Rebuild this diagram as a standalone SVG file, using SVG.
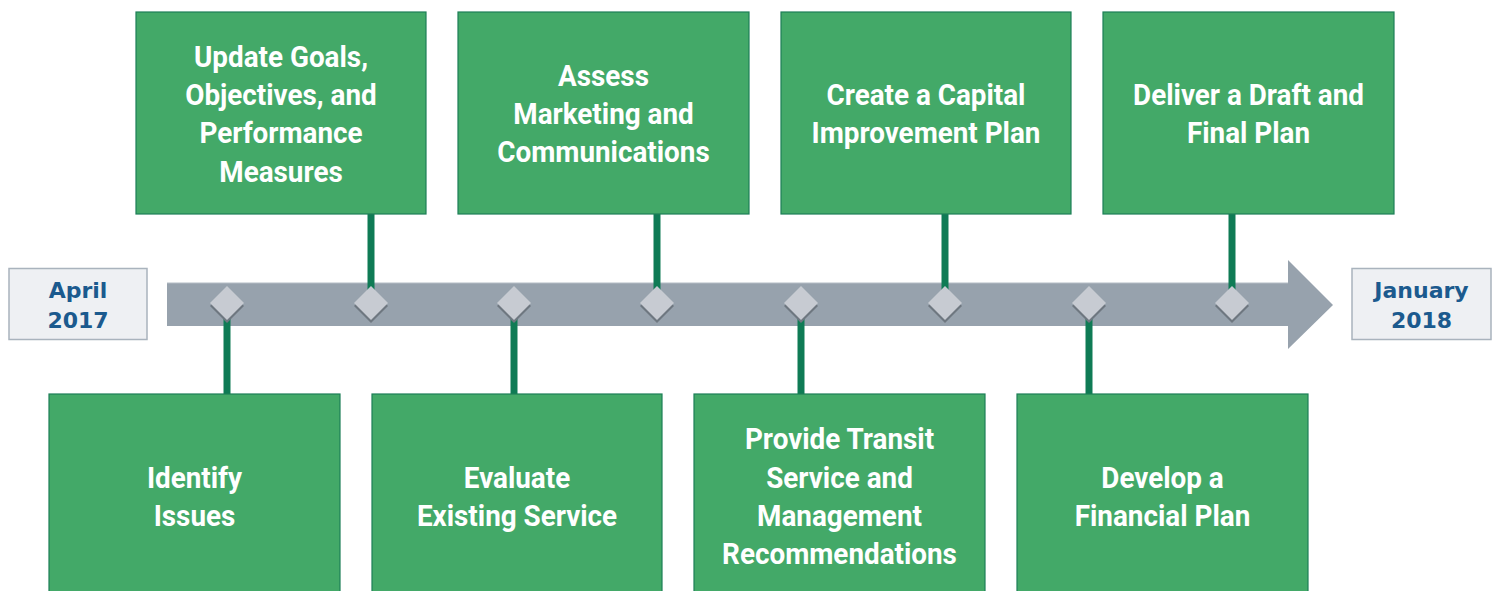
<svg xmlns="http://www.w3.org/2000/svg" width="1499" height="591" viewBox="0 0 1499 591">
<defs>
<style>
.box{fill:#43a968;stroke:#1d7f57;stroke-width:1.2}
.t{font-family:Roboto,"Noto Sans",sans-serif;font-weight:bold;font-size:29px;fill:#ffffff;text-anchor:middle}
.date{fill:#eef0f3;stroke:#a9b3bd;stroke-width:1.5}
.dt{font-family:"DejaVu Sans",Verdana,sans-serif;font-weight:bold;font-size:22px;fill:#1b5a8e;text-anchor:middle}
.conn{stroke:#0f7b55;stroke-width:7;fill:none}
.dia{fill:#c7cbd2}
.sh{fill:#6e7780}
</style>
<g id="dshape"><path d="M0,-17 L17,0 L0,17 L-17,0 Z"/></g>
</defs>
<rect width="1499" height="591" fill="#ffffff"/>
<g id="timeline">
<path d="M167,283 H1288 V260 L1333,305 L1288,349 V326 H167 Z" fill="#97a2ad"/>
<line x1="167" y1="282.8" x2="1288" y2="282.8" stroke="#c9d0d6" stroke-width="1"/>
</g>
<g id="connectors">
<line class="conn" x1="371" y1="214" x2="371" y2="295"/>
<line class="conn" x1="657" y1="214" x2="657" y2="295"/>
<line class="conn" x1="945" y1="214" x2="945" y2="295"/>
<line class="conn" x1="1232" y1="214" x2="1232" y2="295"/>
<line class="conn" x1="227" y1="310" x2="227" y2="394"/>
<line class="conn" x1="514" y1="310" x2="514" y2="394"/>
<line class="conn" x1="801" y1="310" x2="801" y2="394"/>
<line class="conn" x1="1089" y1="310" x2="1089" y2="394"/>
</g>
<g id="diamonds">
<g transform="translate(227,306)"><use href="#dshape" class="sh"/></g><g transform="translate(227,303)"><use href="#dshape" class="dia"/></g>
<g transform="translate(371,306)"><use href="#dshape" class="sh"/></g><g transform="translate(371,303)"><use href="#dshape" class="dia"/></g>
<g transform="translate(514,306)"><use href="#dshape" class="sh"/></g><g transform="translate(514,303)"><use href="#dshape" class="dia"/></g>
<g transform="translate(657,306)"><use href="#dshape" class="sh"/></g><g transform="translate(657,303)"><use href="#dshape" class="dia"/></g>
<g transform="translate(801,306)"><use href="#dshape" class="sh"/></g><g transform="translate(801,303)"><use href="#dshape" class="dia"/></g>
<g transform="translate(945,306)"><use href="#dshape" class="sh"/></g><g transform="translate(945,303)"><use href="#dshape" class="dia"/></g>
<g transform="translate(1089,306)"><use href="#dshape" class="sh"/></g><g transform="translate(1089,303)"><use href="#dshape" class="dia"/></g>
<g transform="translate(1232,306)"><use href="#dshape" class="sh"/></g><g transform="translate(1232,303)"><use href="#dshape" class="dia"/></g>
</g>
<g id="start">
<rect class="date" x="9" y="268.5" width="138" height="71"/>
<text class="dt" x="78" y="298">April</text>
<text class="dt" x="78" y="328">2017</text>
</g>
<g id="end">
<rect class="date" x="1352" y="268.5" width="139" height="71"/>
<text class="dt" x="1421.5" y="298">January</text>
<text class="dt" x="1421.5" y="328">2018</text>
</g>
<g id="n1">
<rect class="box" x="136" y="12" width="290" height="202"/>
<g transform="translate(281,0) scale(0.96,1)">
<text class="t" x="0" y="67">Update Goals,</text>
<text class="t" x="0" y="105">Objectives, and</text>
<text class="t" x="0" y="143">Performance</text>
<text class="t" x="0" y="182">Measures</text>
</g>
</g>
<g id="n2">
<rect class="box" x="458" y="12" width="291" height="202"/>
<g transform="translate(603.5,0) scale(0.96,1)">
<text class="t" x="0" y="86">Assess</text>
<text class="t" x="0" y="124">Marketing and</text>
<text class="t" x="0" y="162">Communications</text>
</g>
</g>
<g id="n3">
<rect class="box" x="781" y="12" width="290" height="202"/>
<g transform="translate(926,0) scale(0.96,1)">
<text class="t" x="0" y="105">Create a Capital</text>
<text class="t" x="0" y="143">Improvement Plan</text>
</g>
</g>
<g id="n4">
<rect class="box" x="1103" y="12" width="291" height="202"/>
<g transform="translate(1248.5,0) scale(0.96,1)">
<text class="t" x="0" y="105">Deliver a Draft and</text>
<text class="t" x="0" y="143">Final Plan</text>
</g>
</g>
<g id="n5">
<rect class="box" x="49" y="394" width="291" height="200"/>
<g transform="translate(194.5,0) scale(0.96,1)">
<text class="t" x="0" y="488">Identify</text>
<text class="t" x="0" y="526">Issues</text>
</g>
</g>
<g id="n6">
<rect class="box" x="372" y="394" width="290" height="200"/>
<g transform="translate(517,0) scale(0.96,1)">
<text class="t" x="0" y="488">Evaluate</text>
<text class="t" x="0" y="526">Existing Service</text>
</g>
</g>
<g id="n7">
<rect class="box" x="694" y="394" width="291" height="200"/>
<g transform="translate(839.5,0) scale(0.96,1)">
<text class="t" x="0" y="449">Provide Transit</text>
<text class="t" x="0" y="488">Service and</text>
<text class="t" x="0" y="526">Management</text>
<text class="t" x="0" y="564">Recommendations</text>
</g>
</g>
<g id="n8">
<rect class="box" x="1017" y="394" width="291" height="200"/>
<g transform="translate(1162.5,0) scale(0.96,1)">
<text class="t" x="0" y="488">Develop a</text>
<text class="t" x="0" y="526">Financial Plan</text>
</g>
</g>
</svg>
